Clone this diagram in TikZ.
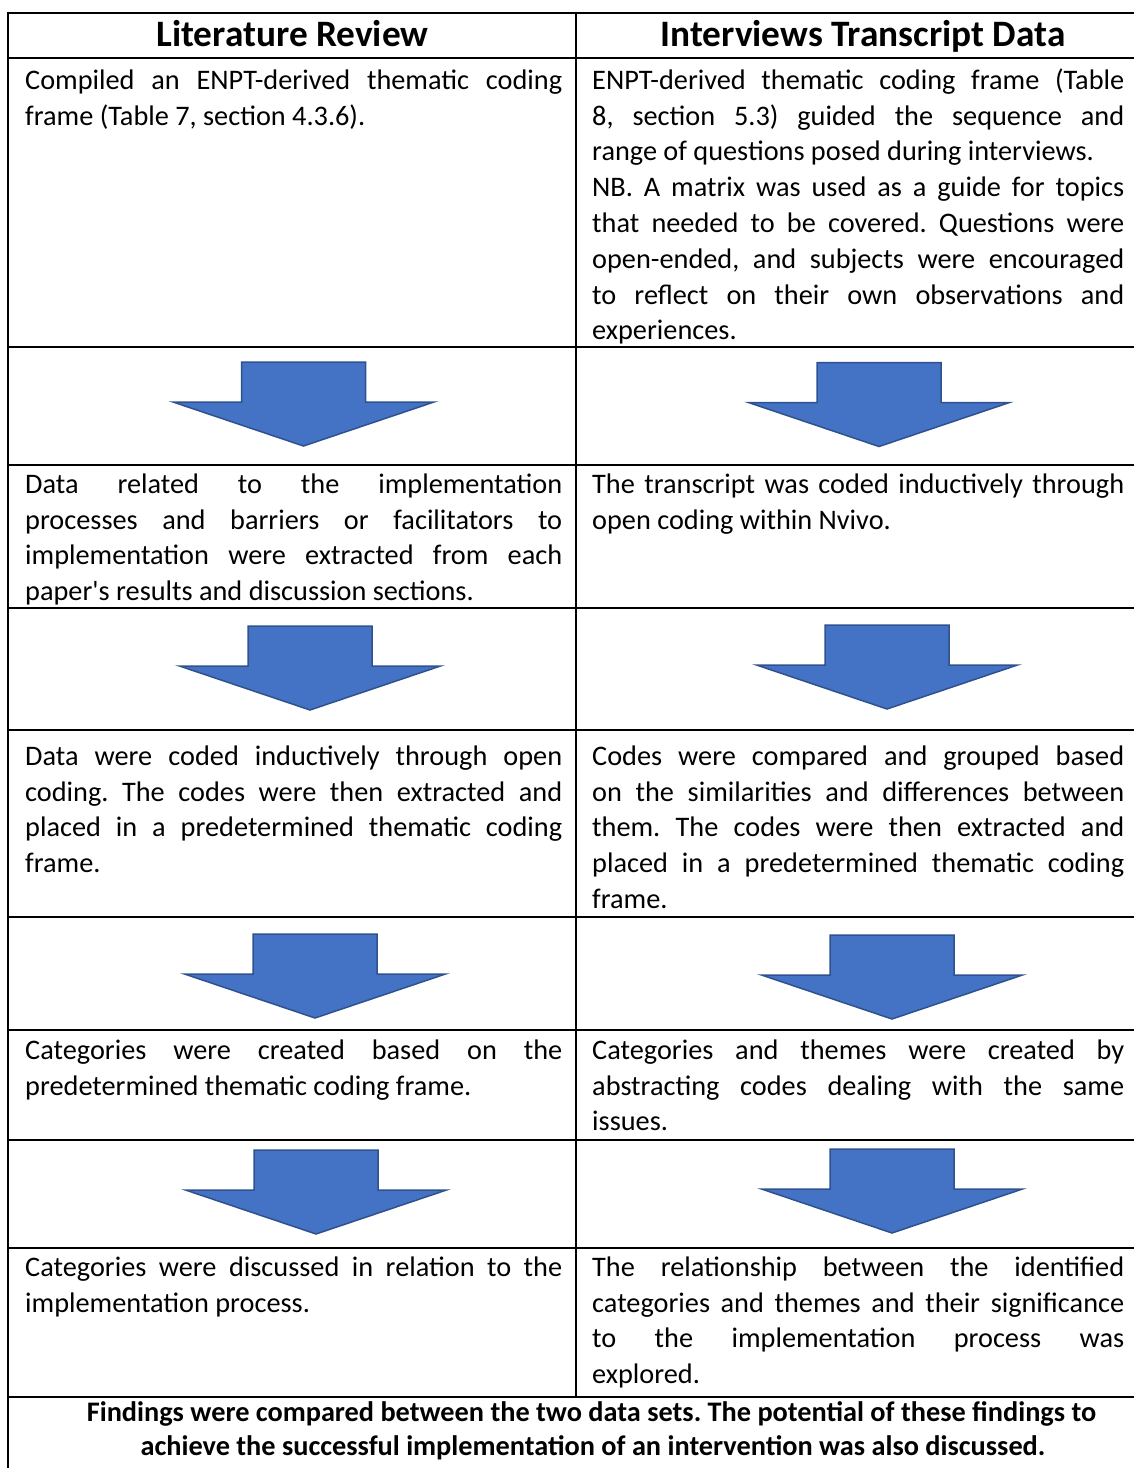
\documentclass[tikz,border=0pt]{standalone}
\usepackage{fontspec}
\setmainfont{Carlito}[Ligatures=TeXOff]
\definecolor{arrowfill}{HTML}{4472C4}
\definecolor{arrowline}{HTML}{2F528F}
\newcommand\bodyfont{\fontsize{28.3}{35.8}\selectfont}
\newcommand\headfont{\fontsize{37.3}{44}\selectfont\bfseries}
% a cell: a stack of lines set to a given measure
\newcommand\cellbox[2]{\vbox{\hsize=#1\relax\parindent=0pt #2}}
% one justified line (stretched to the cell width) and one natural line
\newcommand\jl[1]{\hbox to\hsize{\strut#1}}
\newcommand\nl[1]{\hbox{\strut#1}}
\frenchspacing
\tikzset{
  rule/.style={line width=2pt, black},
  cell/.style={anchor=north west, inner sep=0pt, yshift=25.06pt, font=\bodyfont},
  head/.style={anchor=base, inner sep=0pt, font=\headfont},
  foot/.style={anchor=base, inner sep=0pt, font=\bodyfont\bfseries},
  pics/downarrow/.style={code={
    \draw[fill=arrowfill, draw=arrowline, line width=1.5pt, line join=miter]
      (-62,-84) -- (62,-84) -- (62,-44) -- (130.5,-44) -- (0,0)
      -- (-130.5,-44) -- (-62,-44) -- cycle;
  }}
}
\begin{document}
\begin{tikzpicture}[x=1pt, y=-1pt]
\useasboundingbox (0,0) rectangle (1134,1468);
\clip (0,0) rectangle (1134,1468);
\fill[white] (0,0) rectangle (1134,1468);

% table frame and rules
\draw[rule] (1170,13) -- (8,13) -- (8,1490);
\draw[rule] (576,13) -- (576,1397);
\foreach \yy in {58,347,465,608,730,917,1030,1140,1248,1397}
  \draw[rule] (8,\yy) -- (1170,\yy);

% headings
\node[head] (hl) at (292.5,46) {Literature Review};
\node[head] (hr) at (863,46) {Interviews Transcript Data};

% row 1
\node[cell] (l1) at (25,89) {\cellbox{537pt}{%
\jl{Compiled an ENPT-derived thematic coding}%
\nl{frame (Table 7, section 4.3.6).}}};
\node[cell] (r1) at (592,89) {\cellbox{532pt}{%
\jl{ENPT-derived thematic coding frame (Table}%
\jl{8, section 5.3) guided the sequence and}%
\nl{range of questions posed during interviews.}%
\jl{NB. A matrix was used as a guide for topics}%
\jl{that needed to be covered. Questions were}%
\jl{open-ended, and subjects were encouraged}%
\jl{to reflect on their own observations and}%
\nl{experiences.}}};

\pic at (303.5,446) {downarrow};
\pic at (879,446.5) {downarrow};

% row 2
\node[cell] (l2) at (25,493) {\cellbox{537pt}{%
\jl{Data related to the implementation}%
\jl{processes and barriers or facilitators to}%
\jl{implementation were extracted from each}%
\nl{paper's results and discussion sections.}}};
\node[cell] (r2) at (592,493) {\cellbox{532pt}{%
\jl{The transcript was coded inductively through}%
\nl{open coding within Nvivo.}}};

\pic at (310,710) {downarrow};
\pic at (887,709) {downarrow};

% row 3
\node[cell] (l3) at (25,765) {\cellbox{537pt}{%
\jl{Data were coded inductively through open}%
\jl{coding. The codes were then extracted and}%
\jl{placed in a predetermined thematic coding}%
\nl{frame.}}};
\node[cell] (r3) at (592,765) {\cellbox{532pt}{%
\jl{Codes were compared and grouped based}%
\jl{on the similarities and differences between}%
\jl{them. The codes were then extracted and}%
\jl{placed in a predetermined thematic coding}%
\nl{frame.}}};

\pic at (315,1018) {downarrow};
\pic at (892,1019) {downarrow};

% row 4
\node[cell] (l4) at (25,1059) {\cellbox{537pt}{%
\jl{Categories were created based on the}%
\nl{predetermined thematic coding frame.}}};
\node[cell] (r4) at (592,1059) {\cellbox{532pt}{%
\jl{Categories and themes were created by}%
\jl{abstracting codes dealing with the same}%
\nl{issues.}}};

\pic at (316,1234) {downarrow};
\pic at (892,1233) {downarrow};

% row 5
\node[cell] (l5) at (25,1276) {\cellbox{537pt}{%
\jl{Categories were discussed in relation to the}%
\nl{implementation process.}}};
\node[cell] (r5) at (592,1276) {\cellbox{532pt}{%
\jl{The relationship between the identified}%
\jl{categories and themes and their significance}%
\jl{to the implementation process was}%
\nl{explored.}}};

% closing row
\node[foot] (f1) at (591.5,1421) {Findings were compared between the two data sets. The potential of these findings to};
\node[foot] (f2) at (593,1455) {achieve the successful implementation of an intervention was also discussed.};
\end{tikzpicture}
\end{document}
